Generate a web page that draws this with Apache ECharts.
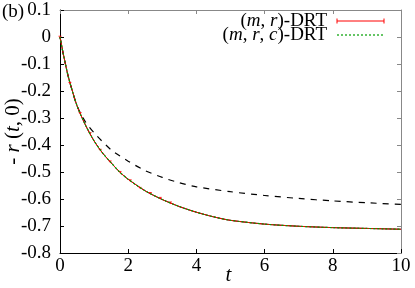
<!DOCTYPE html>
<html><head><meta charset="utf-8">
<script src="https://cdn.jsdelivr.net/npm/echarts@6/dist/echarts.min.js"></script>
<style>html,body{margin:0;padding:0;background:#fff}#c{width:415px;height:288px}</style>
</head><body><div id="c"></div>
<script>
// data
const tSolid = [0, 0.1, 0.25, 0.5, 0.75, 1, 1.25, 1.5, 1.75, 2, 2.5, 3, 3.5, 4, 4.5, 5, 6, 7, 8, 9, 10];
const vSolid = [0, -0.065, -0.15, -0.255, -0.327, -0.385, -0.43, -0.466, -0.5, -0.527, -0.57, -0.602, -0.628, -0.649, -0.666, -0.679, -0.693, -0.701, -0.706, -0.709, -0.712];
const tDashed = [0, 0.1, 0.25, 0.5, 0.75, 1, 1.5, 2, 2.5, 3, 3.5, 4, 5, 6, 7, 8, 9, 10];
const vDashed = [0, -0.065, -0.15, -0.255, -0.315, -0.355, -0.418, -0.46, -0.495, -0.52, -0.54, -0.555, -0.573, -0.587, -0.598, -0.607, -0.614, -0.62];
const errT = [0, 0.29, 0.59, 0.88, 1.18, 1.47, 1.76, 2.06, 2.35, 2.65, 2.94, 3.24];
const errV = [0, -0.171, -0.283, -0.357, -0.419, -0.462, -0.501, -0.532, -0.56, -0.579, -0.597, -0.614];
const errSize = [0.003, 0.003, 0.003, 0.003, 0.003, 0.003, 0.003, 0.003, 0.003, 0.003, 0.003, 0.003];
const xTicks = [0, 2, 4, 6, 8, 10];
const yTicks = [0.1, 0, -0.1, -0.2, -0.3, -0.4, -0.5, -0.6, -0.7, -0.8];
const seriesNames = ['(m, r)-DRT', '(m, r, c)-DRT'];

const F = 'Liberation Serif';
const chart = echarts.init(document.getElementById('c'), null, {renderer: 'canvas'});
const solid = tSolid.map((t, i) => [t, vSolid[i]]);
const dashed = tDashed.map((t, i) => [t, vDashed[i]]);
const errData = errT.map((t, i) => [t, errV[i], errSize[i]]);
const SM = 0.25;
const richLegend = {
  n: {fontFamily: F, fontSize: 19, fill: '#000'},
  i: {fontFamily: F, fontSize: 19, fontStyle: 'italic', fill: '#000'}
};

const option = {
  animation: false,
  backgroundColor: '#fff',
  textStyle: {fontFamily: F},
  grid: {left: 60, right: 14, top: 10, bottom: 35, containLabel: false, outerBoundsMode: 'none'},
  xAxis: [{
    type: 'value', min: 0, max: 10, interval: 2,
    axisLine: {onZero: false, lineStyle: {color: '#000', width: 1}},
    axisTick: {inside: true, length: 4, lineStyle: {color: '#000'}},
    axisLabel: {color: '#000', fontFamily: F, fontSize: 19, margin: 4},
    splitLine: {show: false},
    name: 't', nameLocation: 'middle', nameGap: 12, nameMoveOverlap: false,
    nameTextStyle: {fontFamily: F, fontSize: 21, fontStyle: 'italic', color: '#000', padding: [0, 4, 0, 0]}
  }, {
    type: 'value', min: 0, max: 10, interval: 2, position: 'top',
    axisLine: {show: true, onZero: false, lineStyle: {color: '#888'}},
    axisTick: {inside: true, length: 4, lineStyle: {color: '#888'}},
    axisLabel: {show: false}, splitLine: {show: false}
  }],
  yAxis: [{
    type: 'value', min: -0.8, max: 0.1, interval: 0.1,
    axisLine: {show: true, onZero: false, lineStyle: {color: '#000', width: 1}},
    axisTick: {show: true, inside: true, length: 4, lineStyle: {color: '#000'}},
    axisLabel: {color: '#000', fontFamily: F, fontSize: 19, margin: 9,
      formatter: v => { const r = Math.round(v * 10) / 10; return r === 0 ? '0' : String(r); }},
    splitLine: {show: false},
    name: '{n|- }{i|r}{n| (}{i|t}{n|, 0)}', nameLocation: 'middle', nameGap: 36, nameRotate: 90, nameMoveOverlap: false,
    nameTextStyle: {rich: {
      n: {fontFamily: F, fontSize: 21, color: '#000'},
      i: {fontFamily: F, fontSize: 21, fontStyle: 'italic', color: '#000'}
    }}
  }, {
    type: 'value', min: -0.8, max: 0.1, interval: 0.1, position: 'right',
    axisLine: {show: true, onZero: false, lineStyle: {color: '#888'}},
    axisTick: {show: true, inside: true, length: 4, lineStyle: {color: '#888'}},
    axisLabel: {show: false}, splitLine: {show: false}
  }],
  series: [
    {type: 'line', data: solid, symbol: 'none', smooth: SM, lineStyle: {color: '#000', width: 1}, z: 2},
    {type: 'line', data: dashed, symbol: 'none', smooth: SM, lineStyle: {color: '#000', width: 1.2, type: [6, 6]}, z: 2},
    {type: 'line', name: seriesNames[0], data: solid, symbol: 'none', smooth: SM, lineStyle: {color: '#ff0000', width: 1}, z: 3},
    {type: 'custom', data: errData, z: 4, renderItem: (params, api) => {
      const t = api.value(0), v = api.value(1), e = api.value(2);
      const top = api.coord([t, v + e]), bot = api.coord([t, v - e]);
      const style = {stroke: '#ff0000', lineWidth: 0.8};
      return {type: 'group', children: [
        {type: 'line', shape: {x1: top[0], y1: top[1], x2: bot[0], y2: bot[1]}, style},
        {type: 'line', shape: {x1: top[0] - 1.5, y1: top[1], x2: top[0] + 1.5, y2: top[1]}, style}
      ]};
    }},
    {type: 'line', name: seriesNames[1], data: solid, symbol: 'none', smooth: SM, lineStyle: {color: '#00a000', width: 1.2, type: [2, 2]}, z: 5}
  ],
  graphic: [
    {type: 'text', style: {x: 2, y: 12, verticalAlign: 'middle', text: '(b)', font: "19px 'Liberation Serif'", fill: '#000'}},
    {type: 'text', style: {x: 327, y: 21, align: 'right', verticalAlign: 'middle',
      text: '{n|(}{i|m}{n|, }{i|r}{n|)-DRT}', rich: richLegend}},
    {type: 'text', style: {x: 327, y: 35, align: 'right', verticalAlign: 'middle',
      text: '{n|(}{i|m}{n|, }{i|r}{n|, }{i|c}{n|)-DRT}', rich: richLegend}},
    {type: 'group', children: [
      {type: 'line', shape: {x1: 337, y1: 21, x2: 384, y2: 21}, style: {stroke: '#ff0000', lineWidth: 1}},
      {type: 'line', shape: {x1: 337, y1: 18.5, x2: 337, y2: 23.5}, style: {stroke: '#ff0000', lineWidth: 1}},
      {type: 'line', shape: {x1: 384, y1: 18.5, x2: 384, y2: 23.5}, style: {stroke: '#ff0000', lineWidth: 1}},
      {type: 'line', shape: {x1: 337, y1: 35, x2: 384, y2: 35}, style: {stroke: '#00a000', lineWidth: 1.2, lineDash: [2, 2]}}
    ]}
  ]
};
chart.setOption(option);
</script></body></html>
